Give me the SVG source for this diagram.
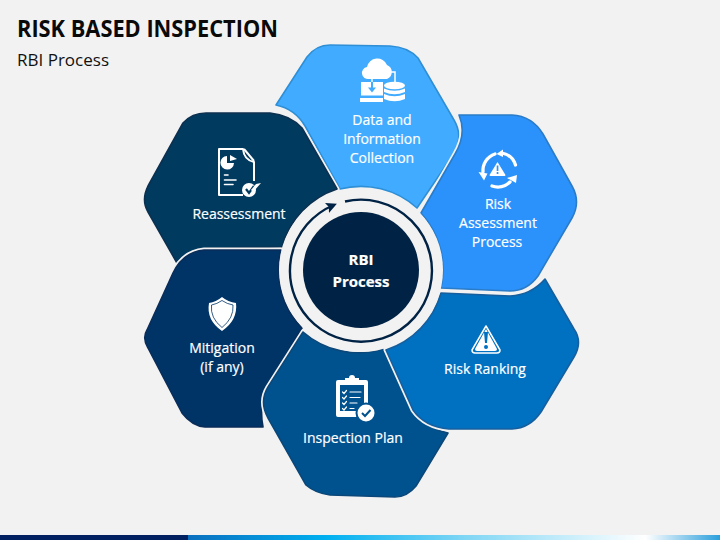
<svg xmlns="http://www.w3.org/2000/svg" width="720" height="540" viewBox="0 0 720 540">
<defs>
<linearGradient id="bar" x1="0" x2="1" y1="0" y2="0">
<stop offset="0" stop-color="#0a6fbe"/><stop offset="0.26" stop-color="#00b0f0"/><stop offset="0.52" stop-color="#7fd6f5"/><stop offset="0.86" stop-color="#ffffff"/><stop offset="1" stop-color="#2a9fdc"/>
</linearGradient>
<marker id="head" markerWidth="4.500" markerHeight="4.500" refX="3.200" refY="2.250" orient="auto"><path d="M0 0L4.500 2.250L0 4.500L0.900 2.250Z" fill="#002244"/></marker>
</defs>
<style>
text{font-family:"Open Sans","Noto Sans","Liberation Sans",sans-serif}
.lab{fill:#fff;font-size:14px;text-anchor:middle;stroke:#fff;stroke-width:.2}
.shape{stroke-width:1.600;stroke-linejoin:round}
.halo{fill:none;stroke:#f2f2f2;stroke-width:5;stroke-linejoin:round}
.ic{fill:#fff}
.icl{fill:none;stroke:#fff;stroke-linecap:round}
</style>
<rect width="720" height="540" fill="#f2f2f2"/>
<rect x="0" y="535" width="188" height="5" fill="#002060"/>
<rect x="188" y="535" width="532" height="5" fill="url(#bar)"/>
<text x="17" y="36.500" font-size="23" font-weight="700" fill="#0a0a0a" textLength="261" lengthAdjust="spacingAndGlyphs">RISK BASED INSPECTION</text>
<text x="17" y="65.500" font-size="17" fill="#111" textLength="92" lengthAdjust="spacingAndGlyphs">RBI Process</text>

<g id="node-data">
<path class="shape" fill="#41acff" stroke="#2f8fd6" d="M276 105L307 57Q316 45 330 45L390 46Q408 47 418 58L454 120Q463 135 455 152L417 208A84 84 0 0 0 340 189L305 126Q295 109 276 105Z"/>
<g class="ic">
<path d="M369 79a6 6 0 0 1 -2-12a10.500 10.500 0 0 1 20-2a7.500 7.500 0 0 1 0 14Z"/>
<rect x="361" y="82" width="22" height="13.500"/>
<rect x="360" y="98" width="23" height="4"/>
<ellipse cx="394.500" cy="85.500" rx="10.500" ry="3.800"/>
<path d="M384 88.500q10.500 4.500 21 0v3.500q-10.500 4.500-21 0ZM384 94q10.500 4.500 21 0v5q-10.500 4.500-21 0Z"/>
</g>
<path d="M388 72H395V82" fill="none" stroke="#fff" stroke-width="1.500"/>
<path d="M372 77V88" stroke="#fff" stroke-width="1.400"/>
<path d="M372 82V88" stroke="#41acff" stroke-width="2"/>
<path d="M368 87.500H376L372 92.500Z" fill="#41acff"/>
<text class="lab"><tspan x="382" y="124.700">Data and</tspan><tspan x="382" y="143.700">Information</tspan><tspan x="382" y="162.700">Collection</tspan></text>
</g>

<g id="node-reassessment">
<path class="halo" d="M177 263L148 212Q141 200 148 186L183 123Q192 113 206 113L270 113Q290 115 302 128L337 189A84 84 0 0 0 282 247L207 248Q188 250 177 263Z"/>
<path class="shape" fill="#003a5f" stroke="#0c3050" d="M177 263L148 212Q141 200 148 186L183 123Q192 113 206 113L270 113Q290 115 302 128L337 189A84 84 0 0 0 282 247L207 248Q188 250 177 263Z"/>
<path d="M243 195H219V149H243Q244 160 254 162V181" fill="none" stroke="#fff" stroke-width="2" stroke-linejoin="round"/>
<path d="M244 149L254 161" fill="none" stroke="#fff" stroke-width="2"/>
<path class="ic" d="M227 156V163H234A6.800 6.800 0 1 1 227 156Z"/>
<path class="ic" d="M230 155L237 159L230 161Z"/>
<path d="M224.500 175H228M224.500 180H236M224.500 184.500H233" class="icl" stroke-width="1.600"/>
<circle cx="250" cy="189" r="8" fill="#003a5f"/>
<circle cx="249" cy="190" r="7" class="ic"/>
<path d="M246 189L249 193L254 186" fill="none" stroke="#003a5f" stroke-width="2.200"/>
<path d="M251 190L256 184L261 183L253 192Z" class="ic"/>
<text class="lab" x="239" y="218.600">Reassessment</text>
</g>

<g id="node-mitigation">
<path class="halo" d="M147 330L173 273Q183 252 204 250L281 250A84 84 0 0 0 302 328L271 381Q258 402 263 427L205 427Q192 426 182 413L148 348Q142 338 147 330Z"/>
<path class="shape" fill="#003366" stroke="#0a2d59" d="M147 330L173 273Q183 252 204 250L281 250A84 84 0 0 0 302 328L271 381Q258 402 263 427L205 427Q192 426 182 413L148 348Q142 338 147 330Z"/>
<path d="M222 297Q228 302 236 303Q238 320 222 331Q206 320 209 303Q216 302 222 297Z" class="ic"/>
<path d="M222 300.500Q227 304 233 305Q234 318 222 327.500Q210 318 211.500 305Q217 304 222 300.500Z" fill="none" stroke="#003366" stroke-width="0.800"/>
<text class="lab"><tspan x="222" y="352.700">Mitigation</tspan><tspan x="222" y="372">(if any)</tspan></text>
</g>

<g id="node-plan">
<path class="halo" d="M303 332A84 84 0 0 0 383 349L412 409Q425 428 448 433L416 486Q407 497 395 497L330 495Q315 493 306 485L268 418Q259 402 268 387Z"/>
<path class="shape" fill="#00528f" stroke="#0b4779" d="M303 332A84 84 0 0 0 383 349L412 409Q425 428 448 433L416 486Q407 497 395 497L330 495Q315 493 306 485L268 418Q259 402 268 387Z"/>
<path class="ic" d="M338 380H345V378H349A3 3 0 0 1 355 378H359V380H366Q368 380 368 382V410H358V417H338Q336 417 336 415V382Q336 380 338 380Z"/>
<rect x="340" y="385" width="24" height="26" fill="#00528f"/>
<path d="M340 411H352V415H340Z" fill="#fff"/>
<g fill="none" stroke="#fff" stroke-linecap="round" stroke-width="1.200">
<path d="M350 392H361M350 397.500H360M350 403H357M350 408.500H354"/>
<path d="M342.500 392L344 393.500L346.500 390.500M342.500 397.500L344 399L346.500 396M342.500 403L344 404.500L346.500 401.500M342.500 408.500L344 410L346.500 407"/>
</g>
<circle cx="366" cy="413" r="10.500" fill="#00528f"/>
<circle cx="366" cy="413" r="8.500" class="ic"/>
<path d="M362 413L365 416L370.500 410" fill="none" stroke="#00528f" stroke-width="2"/>
<text class="lab" x="353" y="442.700">Inspection Plan</text>
</g>

<g id="node-assessment">
<path class="halo" d="M459 115H512Q532 116 543 134L572 186Q581 202 572 218L538 276Q527 291 510 291L441 288A84 84 0 0 0 421 213L455 154Q467 134 459 115Z"/>
<path class="shape" fill="#2b91fb" stroke="#2a7cc8" d="M459 115H512Q532 116 543 134L572 186Q581 202 572 218L538 276Q527 291 510 291L441 288A84 84 0 0 0 421 213L455 154Q467 134 459 115Z"/>
<g class="icl" stroke-width="3.300" stroke-linecap="butt">
<path d="M515.500 165A17.500 17.500 0 0 0 502 153"/>
<path d="M495 154A17.500 17.500 0 0 0 483 172"/>
<path d="M492 186A17.500 17.500 0 0 0 510 182"/>
</g>
<g class="ic">
<path d="M496.500 154L503 149.500L503 157Z"/><path d="M478.500 172L487.500 173.500L484 180.500Z"/><path d="M517 175L516 183L507 178Z"/>
<path d="M497.500 162L505.500 175Q505.500 176 504.500 176H490.500Q489.500 176 489.500 175Z"/>
</g>
<rect x="496.700" y="165.500" width="1.700" height="5.500" fill="#2b91fb"/><rect x="496.700" y="172" width="1.700" height="2" fill="#2b91fb"/>
<text class="lab"><tspan x="498" y="208.700">Risk</tspan><tspan x="498" y="227.700">Assessment</tspan><tspan x="497" y="246.700">Process</tspan></text>
</g>

<g id="node-ranking">
<path class="halo" d="M545 279L574 329Q583 342 574 357L541 412Q530 428 512 429L449 429Q425 427 413 410L386 350A84 84 0 0 0 441 293L510 296Q531 295 545 279Z"/>
<path class="shape" fill="#0070c0" stroke="#165f9f" d="M545 279L574 329Q583 342 574 357L541 412Q530 428 512 429L449 429Q425 427 413 410L386 350A84 84 0 0 0 441 293L510 296Q531 295 545 279Z"/>
<path d="M486 326L500 350Q500 353 497 353H475Q472 353 472 350Z" fill="none" stroke="#fff" stroke-width="1.500" stroke-linejoin="round"/>
<path d="M486 329L497 349Q497 351 495 351H477Q475 351 475 349Z" class="ic"/>
<path d="M484 332H488L487 343H485Z" fill="#0070c0"/><circle cx="486" cy="347" r="2" fill="#0070c0"/>
<text class="lab" x="485" y="373.700">Risk Ranking</text>
</g>

<g id="connectors">
<circle cx="361" cy="270" r="82" fill="#f2f2f2"/>
<path d="M345 201.500A71 71 0 1 1 334 205" fill="none" stroke="#002244" stroke-width="2.400" marker-end="url(#head)"/>
</g>

<g id="node-center">
<circle cx="361" cy="270" r="58" fill="#002244"/>
<text class="lab" font-weight="700" style="font-size:15px"><tspan x="361" y="265">RBI</tspan><tspan x="361" y="286.500">Process</tspan></text>
</g>
</svg>
